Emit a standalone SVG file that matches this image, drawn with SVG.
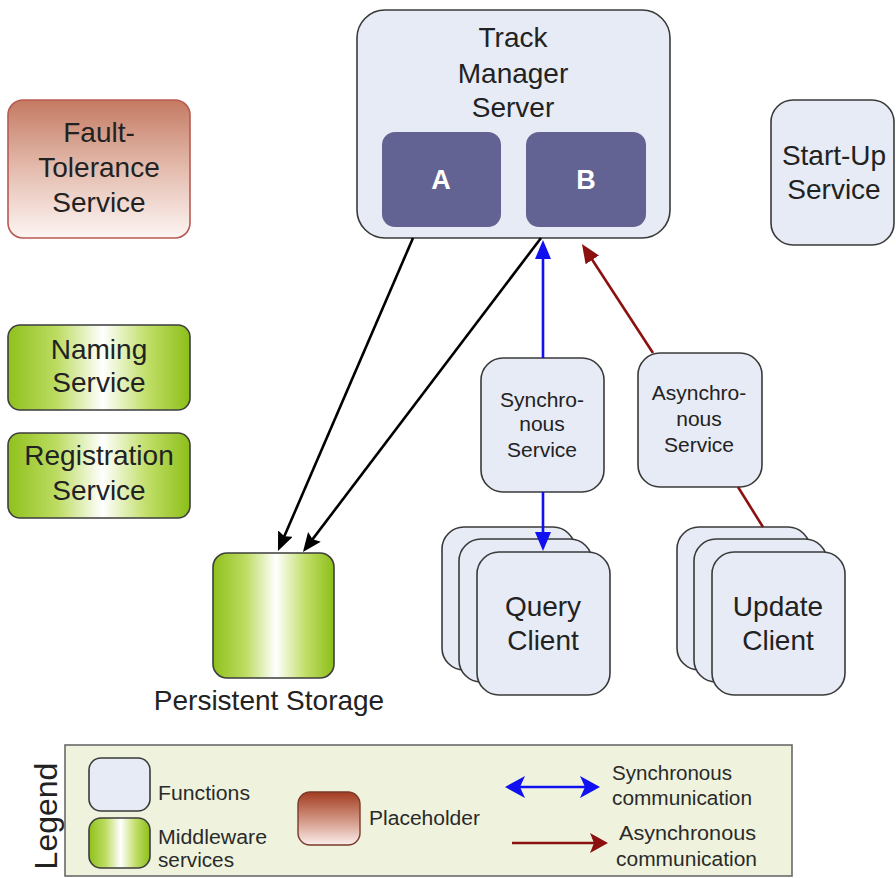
<svg xmlns="http://www.w3.org/2000/svg" width="896" height="878" viewBox="0 0 896 878">
  <defs>
    <linearGradient id="gMiddleware" x1="0" y1="0" x2="1" y2="0">
      <stop offset="0" stop-color="#8fc11c"/>
      <stop offset="0.27" stop-color="#bddc62"/>
      <stop offset="0.52" stop-color="#ffffff"/>
      <stop offset="0.76" stop-color="#c2df6a"/>
      <stop offset="1" stop-color="#8cbf18"/>
    </linearGradient>
    <linearGradient id="gPlaceholder" x1="0" y1="0" x2="0" y2="1">
      <stop offset="0" stop-color="#c47a62"/>
      <stop offset="0.5" stop-color="#e4bcae"/>
      <stop offset="1" stop-color="#fdf5f3"/>
    </linearGradient>
    <linearGradient id="gPlaceholderLegend" x1="0" y1="0" x2="0" y2="1">
      <stop offset="0" stop-color="#a33c22"/>
      <stop offset="0.55" stop-color="#d49a88"/>
      <stop offset="1" stop-color="#fbeeee"/>
    </linearGradient>
    <marker id="headBlack" markerUnits="userSpaceOnUse" markerWidth="20" markerHeight="16" refX="7" refY="8" orient="auto">
      <path d="M0,0 L19,8 L0,16 L3,8 z" fill="#000"/>
    </marker>
    <marker id="headBlue" markerUnits="userSpaceOnUse" markerWidth="20" markerHeight="16" refX="7" refY="8" orient="auto">
      <path d="M0,0 L19,8 L0,16 z" fill="#1010f0"/>
    </marker>
    <marker id="headRed" markerUnits="userSpaceOnUse" markerWidth="20" markerHeight="16" refX="7" refY="8" orient="auto">
      <path d="M0,0 L19,8 L0,16 z" fill="#8c1010"/>
    </marker>
    <marker id="legBlue" markerUnits="userSpaceOnUse" markerWidth="22" markerHeight="22" refX="8" refY="11" orient="auto-start-reverse">
      <path d="M0,0 L20,11 L0,22 L5,11 z" fill="#1010f0"/>
    </marker>
    <marker id="legRed" markerUnits="userSpaceOnUse" markerWidth="22" markerHeight="22" refX="6" refY="10" orient="auto">
      <path d="M0,0 L18,10 L0,20 L4,10 z" fill="#8c1010"/>
    </marker>
  </defs>
  <style>
    .fn { fill: #e6ebf5; stroke: #3a3a3a; stroke-width: 1.6; }
    .mw { fill: url(#gMiddleware); stroke: #3d3d3d; stroke-width: 1.6; }
    .ph { fill: url(#gPlaceholder); stroke: #b85a52; stroke-width: 1.6; }
    .part { fill: #626293; }
    .t { font-family: "Liberation Sans", Arial, sans-serif; fill: #222; text-anchor: middle; }
    .big { font-size: 28px; }
    .mid { font-size: 21px; }
    .partLbl { font-family: "Liberation Sans", Arial, sans-serif; font-size: 27px; font-weight: bold; fill: #fff; text-anchor: middle; }
    .leg { font-family: "Liberation Sans", Arial, sans-serif; font-size: 20px; fill: #2a2a2a; }
    .c { fill: none; stroke-width: 2.6; }
  </style>

  <rect width="896" height="878" fill="#fff"/>

  <!-- Track Manager Server with its two parts -->
  <g id="track-manager-server">
    <rect class="fn" x="357" y="10" width="313" height="228" rx="28"/>
    <text class="t big" x="513" y="47">Track</text>
    <text class="t big" x="513" y="83">Manager</text>
    <text class="t big" x="513" y="117">Server</text>
    <g id="part-a">
      <rect class="part" x="382" y="132" width="119" height="95" rx="13"/>
      <text class="partLbl" x="441" y="189">A</text>
    </g>
    <g id="part-b">
      <rect class="part" x="526" y="132" width="120" height="95" rx="13"/>
      <text class="partLbl" x="586" y="189">B</text>
    </g>
  </g>

  <g id="fault-tolerance-service">
    <rect class="ph" x="8" y="100" width="182" height="138" rx="15"/>
    <text class="t big" x="99" y="142">Fault-</text>
    <text class="t big" x="99" y="177">Tolerance</text>
    <text class="t big" x="99" y="212">Service</text>
  </g>

  <g id="start-up-service">
    <rect class="fn" x="771" y="100" width="123" height="145" rx="22"/>
    <text class="t big" x="834" y="165">Start-Up</text>
    <text class="t big" x="834" y="199">Service</text>
  </g>

  <g id="naming-service">
    <rect class="mw" x="8" y="325" width="182" height="85" rx="12"/>
    <text class="t big" x="99" y="359">Naming</text>
    <text class="t big" x="99" y="392">Service</text>
  </g>

  <g id="registration-service">
    <rect class="mw" x="8" y="433" width="182" height="85" rx="12"/>
    <text class="t big" x="99" y="465">Registration</text>
    <text class="t big" x="99" y="500">Service</text>
  </g>

  <g id="persistent-storage">
    <rect class="mw" x="213" y="553" width="121" height="125" rx="14"/>
    <text class="t big" x="269" y="710">Persistent Storage</text>
  </g>

  <g id="synchronous-service">
    <rect class="fn" x="481" y="358" width="123" height="134" rx="22"/>
    <text class="t mid" x="542" y="407">Synchro-</text>
    <text class="t mid" x="542" y="431">nous</text>
    <text class="t mid" x="542" y="457">Service</text>
  </g>

  <g id="asynchronous-service">
    <rect class="fn" x="638" y="353" width="124" height="134" rx="22"/>
    <text class="t mid" x="699" y="400">Asynchro-</text>
    <text class="t mid" x="699" y="426">nous</text>
    <text class="t mid" x="699" y="452">Service</text>
  </g>

  <!-- stacked client instances -->
  <g id="query-client">
    <rect class="fn" x="442" y="527" width="133" height="143" rx="22"/>
    <rect class="fn" x="459" y="539" width="133" height="143" rx="22"/>
    <rect class="fn" x="477" y="552" width="133" height="143" rx="22"/>
    <text class="t big" x="543" y="616">Query</text>
    <text class="t big" x="543" y="650">Client</text>
  </g>

  <g id="update-client">
    <rect class="fn" x="677" y="527" width="133" height="143" rx="22"/>
    <rect class="fn" x="694" y="539" width="133" height="143" rx="22"/>
    <rect class="fn" x="712" y="552" width="133" height="143" rx="22"/>
    <text class="t big" x="778" y="616">Update</text>
    <text class="t big" x="778" y="650">Client</text>
  </g>

  <g id="connectors">
    <line class="c" x1="413" y1="238" x2="282.7" y2="540" stroke="#000" marker-end="url(#headBlack)"/>
    <line class="c" x1="541" y1="238" x2="310.2" y2="542.4" stroke="#000" marker-end="url(#headBlack)"/>
    <line class="c" x1="543" y1="358" x2="543" y2="252" stroke="#1010f0" marker-end="url(#headBlue)"/>
    <line class="c" x1="543" y1="492" x2="543" y2="539" stroke="#1010f0" marker-end="url(#headBlue)"/>
    <line class="c" x1="653" y1="353" x2="588.5" y2="254" stroke="#8c1010" marker-end="url(#headRed)"/>
    <line class="c" x1="738" y1="487" x2="763" y2="527" stroke="#8c1010"/>
  </g>

  <g id="legend">
    <rect x="65" y="745" width="727" height="131" fill="#eff3dd" stroke="#6a6a6a" stroke-width="1.6"/>
    <text class="t" x="57" y="816" font-size="32" transform="rotate(-90 57 816)" fill="#333">Legend</text>
    <rect class="fn" x="89" y="758" width="61" height="53" rx="12"/>
    <text class="leg" x="158" y="800" textLength="92" lengthAdjust="spacingAndGlyphs">Functions</text>
    <rect class="mw" x="89" y="818" width="61" height="50" rx="12"/>
    <text class="leg" x="158" y="844" textLength="109" lengthAdjust="spacingAndGlyphs">Middleware</text>
    <text class="leg" x="158" y="867" textLength="76" lengthAdjust="spacingAndGlyphs">services</text>
    <rect x="298" y="792" width="62" height="53" rx="12" fill="url(#gPlaceholderLegend)" stroke="#7a3a2a" stroke-width="1.4"/>
    <text class="leg" x="369" y="825" textLength="111" lengthAdjust="spacingAndGlyphs">Placeholder</text>
    <line class="c" x1="517" y1="787" x2="588" y2="787" stroke="#1010f0" stroke-width="3" marker-start="url(#legBlue)" marker-end="url(#legBlue)"/>
    <text class="leg" x="612" y="780" textLength="120" lengthAdjust="spacingAndGlyphs">Synchronous</text>
    <text class="leg" x="612" y="805" textLength="140" lengthAdjust="spacingAndGlyphs">communication</text>
    <line class="c" x1="512" y1="843" x2="596" y2="843" stroke="#8c1010" stroke-width="3" marker-end="url(#legRed)"/>
    <text class="leg" x="619" y="840" textLength="137" lengthAdjust="spacingAndGlyphs">Asynchronous</text>
    <text class="leg" x="616" y="866" textLength="141" lengthAdjust="spacingAndGlyphs">communication</text>
  </g>
</svg>
